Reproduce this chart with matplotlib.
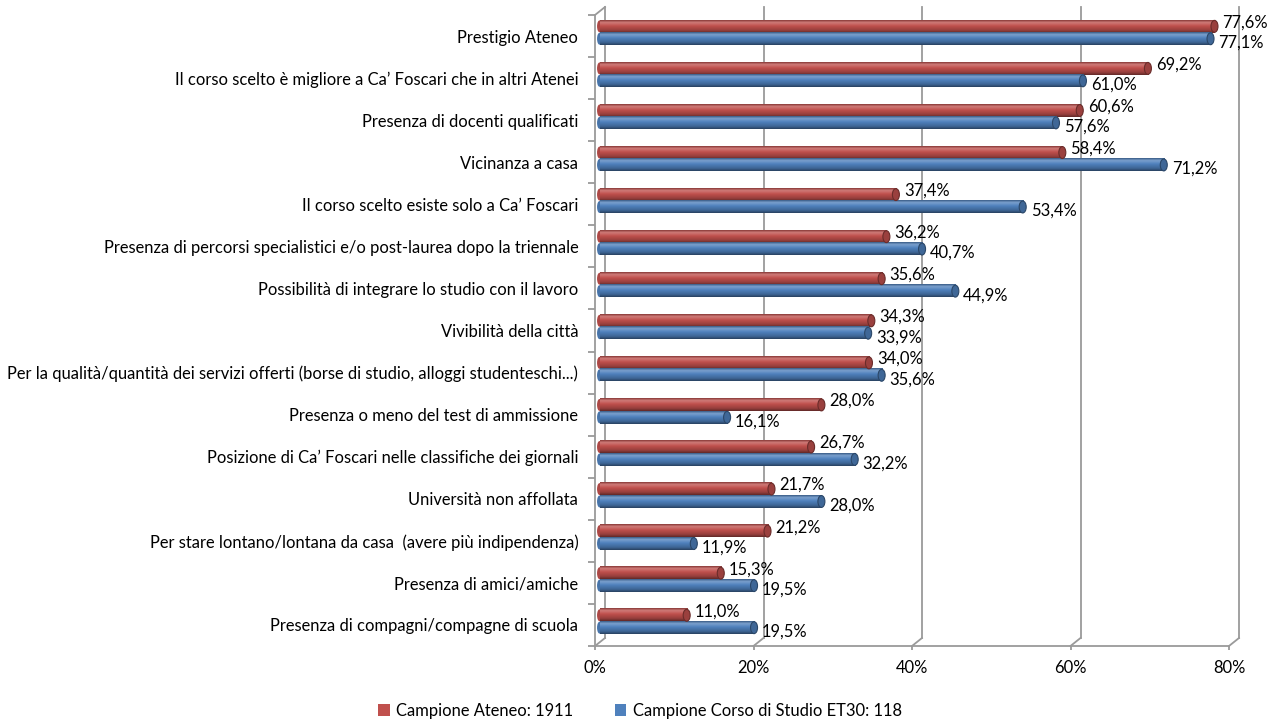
import numpy as np
import matplotlib
matplotlib.use('Agg')
import matplotlib.pyplot as plt
from matplotlib.transforms import offset_copy
from matplotlib.patches import Ellipse, Patch
from matplotlib.colors import LinearSegmentedColormap, to_rgb

plt.rcParams['font.family'] = ['Lato', 'DejaVu Sans']

categories = [
    'Prestigio Ateneo',
    'Il corso scelto è migliore a Ca’ Foscari che in altri Atenei',
    'Presenza di docenti qualificati',
    'Vicinanza a casa',
    'Il corso scelto esiste solo a Ca’ Foscari',
    'Presenza di percorsi specialistici e/o post-laurea dopo la triennale',
    'Possibilità di integrare lo studio con il lavoro',
    'Vivibilità della città',
    'Per la qualità/quantità dei servizi offerti (borse di studio, alloggi studenteschi...)',
    'Presenza o meno del test di ammissione',
    'Posizione di Ca’ Foscari nelle classifiche dei giornali',
    'Università non affollata',
    'Per stare lontano/lontana da casa  (avere più indipendenza)',
    'Presenza di amici/amiche',
    'Presenza di compagni/compagne di scuola',
]
ateneo = [77.6, 69.2, 60.6, 58.4, 37.4, 36.2, 35.6, 34.3, 34.0, 28.0, 26.7, 21.7, 21.2, 15.3, 11.0]
corso = [77.1, 61.0, 57.6, 71.2, 53.4, 40.7, 44.9, 33.9, 35.6, 16.1, 32.2, 28.0, 11.9, 19.5, 19.5]
series_names = ['Campione Ateneo: 1911', 'Campione Corso di Studio ET30: 118']
xticks = [0, 20, 40, 60, 80]

RED = '#C0504D'
BLUE = '#4F81BD'
GRID = '#9a9a9a'
FS = 11.9

W, H = 1277, 722
fig = plt.figure(figsize=(W / 100, H / 100), dpi=100)
# front plane of the 3d box, in pixels
x0, x1, ytop, ybot = 595, 1229, 15, 646
ax = fig.add_axes([x0 / W, 1 - ybot / H, (x1 - x0) / W, (ybot - ytop) / H])
ax.set_xlim(0, 80)
ax.set_ylim(14.5, -0.5)
ax.patch.set_alpha(0)

# back wall / mid-depth offsets (pixels)
back = offset_copy(ax.transData, fig=fig, x=10, y=8, units='dots')
mid = offset_copy(ax.transData, fig=fig, x=4.5, y=3.5, units='dots')

for xv in xticks:
    ax.plot([xv, xv], [-0.5, 14.5], color=GRID, lw=1.3, transform=back, clip_on=False)
    # diagonal from back to front at the floor
    p_back = back.transform((xv, 14.5))
    p_front = ax.transData.transform((xv, 14.5))
    ax.plot([p_back[0], p_front[0]], [p_back[1], p_front[1]], color=GRID, lw=1.3,
            transform=None, clip_on=False)
# top-left diagonal
p_back = back.transform((0, -0.5))
p_front = ax.transData.transform((0, -0.5))
ax.plot([p_back[0], p_front[0]], [p_back[1], p_front[1]], color=GRID, lw=1.3,
        transform=None, clip_on=False)

for sp in ['top', 'right']:
    ax.spines[sp].set_visible(False)
for sp in ['left', 'bottom']:
    ax.spines[sp].set_color(GRID)
    ax.spines[sp].set_linewidth(1.3)

ax.set_xticks(xticks)
ax.set_xticklabels([f'{v}%' for v in xticks], fontsize=FS)
ax.tick_params(axis='x', length=3, width=1.3, color=GRID, pad=7)
ax.set_yticks(np.arange(len(categories)))
ax.set_yticklabels(categories, fontsize=FS)
ax.tick_params(axis='y', which='major', length=0, pad=12)
ax.set_yticks(np.arange(-0.5, len(categories)), minor=True)
ax.tick_params(axis='y', which='minor', length=5, width=1.3, color=GRID)


def shade(c, f):
    r, g, b = to_rgb(c)
    if f >= 1:
        return tuple(min(1, v + (1 - v) * (f - 1)) for v in (r, g, b))
    return (r * f, g * f, b * f)


def cylinder(y, w, h, color):
    cmap = LinearSegmentedColormap.from_list('c', [
        (0.0, shade(color, 0.7)), (0.18, shade(color, 1.25)), (0.45, shade(color, 1.0)),
        (0.8, shade(color, 0.78)), (1.0, shade(color, 0.5))])
    grad = np.linspace(0, 1, 64).reshape(-1, 1)
    ax.imshow(grad, cmap=cmap, extent=(0, w, y + h / 2, y - h / 2), aspect='auto',
              transform=mid, interpolation='bilinear', clip_on=False, zorder=3)
    cap_w = 7 / ((x1 - x0) / 80)
    ax.add_patch(Ellipse((w, y), cap_w, h * 0.96, facecolor=shade(color, 0.8),
                         edgecolor=shade(color, 0.55), lw=0.8, transform=mid, zorder=4,
                         clip_on=False))
    ax.add_patch(Ellipse((0, y), cap_w * 0.7, h * 0.96, facecolor=shade(color, 0.9),
                         edgecolor='none', transform=mid, zorder=2, clip_on=False))


bh = 0.295
for i in range(len(categories)):
    cylinder(i - bh / 2, ateneo[i], bh, RED)
    cylinder(i + bh / 2, corso[i], bh, BLUE)
    ax.annotate(f'{ateneo[i]:.1f}%'.replace('.', ','), (ateneo[i], i - bh / 2),
                xycoords=mid, xytext=(8, 4), textcoords='offset pixels',
                ha='left', va='center', fontsize=FS, zorder=5)
    ax.annotate(f'{corso[i]:.1f}%'.replace('.', ','), (corso[i], i + bh / 2),
                xycoords=mid, xytext=(8, -4), textcoords='offset pixels',
                ha='left', va='center', fontsize=FS, zorder=5)

ax.set_xlim(0, 80)
ax.set_ylim(14.5, -0.5)

handles = [Patch(facecolor=RED), Patch(facecolor=BLUE)]
fig.legend(handles, series_names, loc='center', bbox_to_anchor=(640 / W, 11 / H),
           ncol=2, frameon=False, fontsize=FS, handlelength=0.7, handleheight=0.7,
           handletextpad=0.4, columnspacing=2.5)

fig.savefig('out.png', dpi=100)
